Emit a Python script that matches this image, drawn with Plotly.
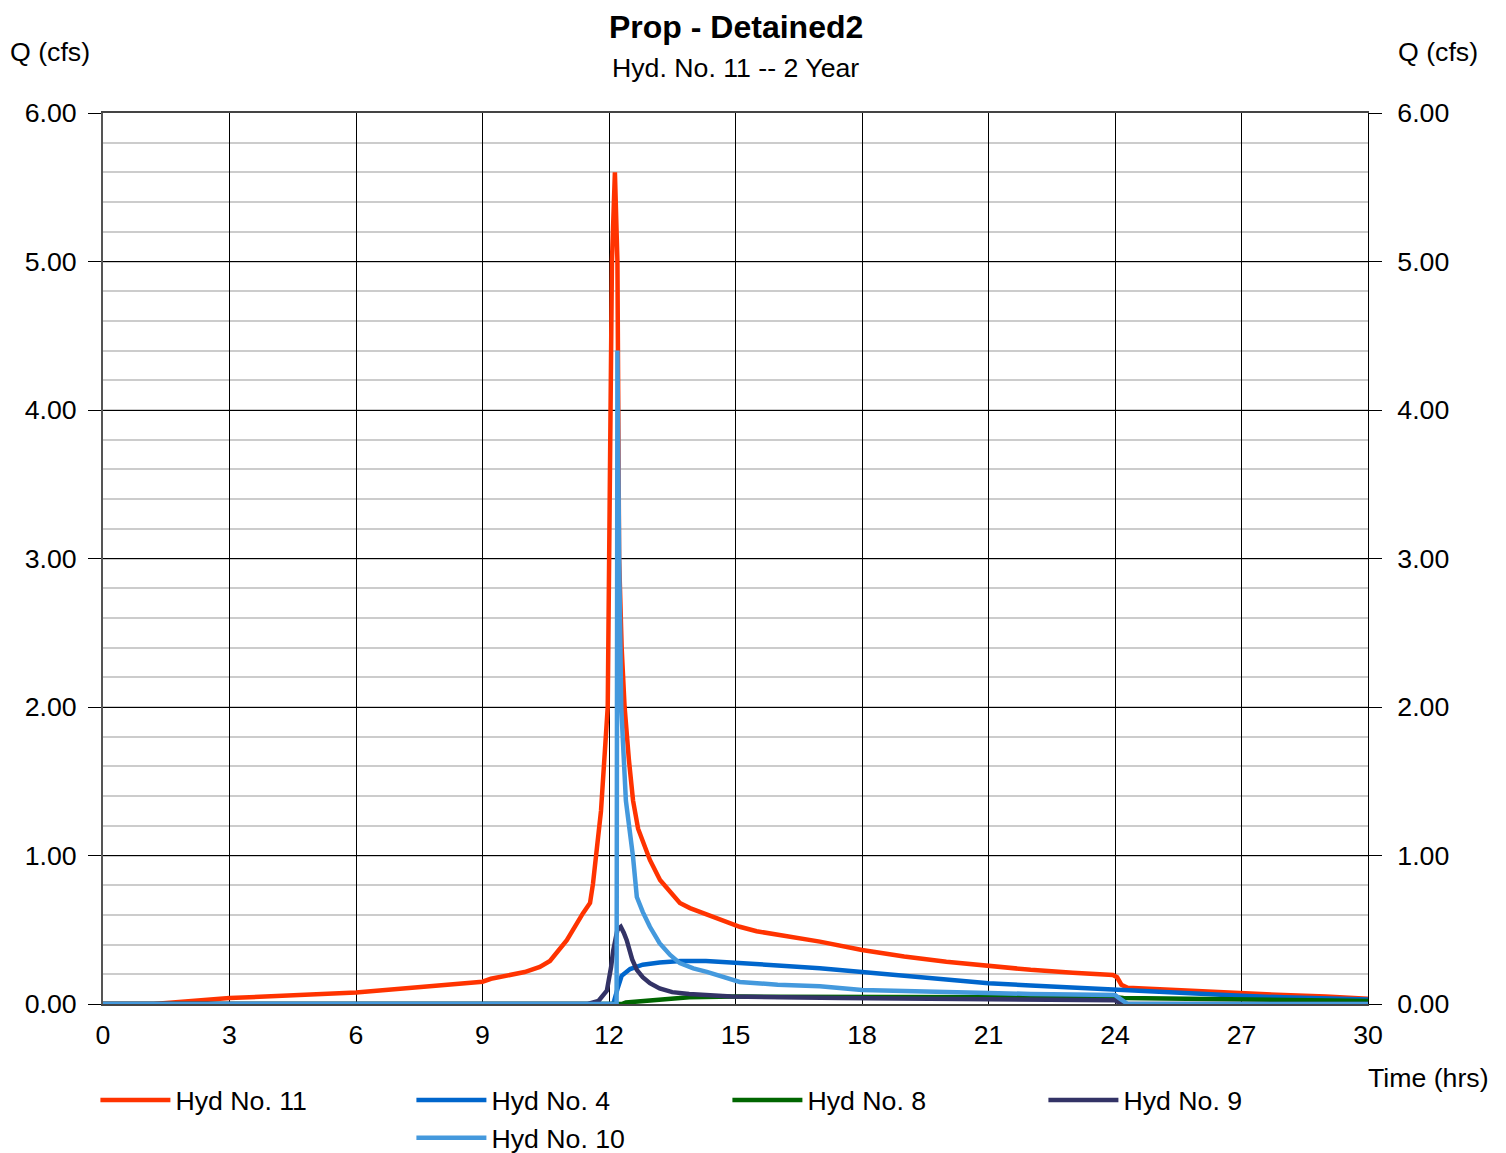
import plotly.graph_objects as go

# ---------------- data ----------------
t_h11 = [0, 1.2, 3, 6, 9, 9.2, 10.0, 10.36, 10.6, 11.0, 11.38, 11.55, 11.62, 11.69, 11.81,
         11.97, 12.0, 12.03, 12.07, 12.14, 12.2, 12.22, 12.24, 12.3, 12.37, 12.47, 12.57, 12.69,
         12.97, 13.21, 13.45, 13.68, 13.92, 14.47, 15.1, 15.5, 16.05, 17.0, 18.0, 19.0, 20.0,
         21.0, 22.0, 23.0, 23.95, 24.05, 24.15, 24.3, 25, 26, 27, 28, 29, 30]
q_h11 = [0, 0, 0.04, 0.077, 0.15, 0.17, 0.215, 0.25, 0.29, 0.43, 0.61, 0.68, 0.81, 0.97, 1.3,
         2.0, 3.0, 4.0, 5.0, 5.6, 5.0, 4.0, 3.0, 2.4, 2.0, 1.65, 1.37, 1.18,
         0.97, 0.835, 0.75, 0.68, 0.646, 0.586, 0.52, 0.49, 0.465, 0.42, 0.364, 0.32, 0.285,
         0.256, 0.23, 0.21, 0.195, 0.18, 0.13, 0.11, 0.1, 0.085, 0.074, 0.06, 0.05, 0.035]

t_h4 = [0, 12.1, 12.2, 12.3, 12.5, 12.8, 13.2, 13.7, 14.3, 15, 16, 17, 18, 19, 20, 21, 22,
        23, 24, 25, 26, 27, 28, 29, 30]
q_h4 = [0, 0, 0.1, 0.19, 0.235, 0.265, 0.28, 0.29, 0.29, 0.28, 0.26, 0.24, 0.215, 0.19,
        0.165, 0.14, 0.125, 0.11, 0.097, 0.08, 0.065, 0.055, 0.045, 0.035, 0.03]

t_h8 = [0, 12.3, 12.4, 12.8, 13.1, 13.9, 15, 17.5, 20, 24, 24.2, 27, 30]
q_h8 = [0, 0, 0.01, 0.02, 0.03, 0.045, 0.05, 0.05, 0.048, 0.045, 0.04, 0.03, 0.02]

t_h9 = [0, 11.5, 11.75, 11.95, 12.05, 12.1, 12.2, 12.28, 12.35, 12.42, 12.55, 12.66, 12.8,
        12.97, 13.2, 13.5, 13.9, 14.9, 17.5, 20, 24, 24.15, 30]
q_h9 = [0, 0, 0.02, 0.09, 0.25, 0.36, 0.5, 0.52, 0.48, 0.43, 0.3, 0.23, 0.18,
        0.14, 0.105, 0.08, 0.067, 0.05, 0.04, 0.035, 0.025, 0, 0]

t_h10 = [0, 12.18, 12.2, 12.22, 12.24, 12.29, 12.4, 12.57, 12.66, 12.8, 12.97,
         13.2, 13.45, 13.68, 14.0, 14.32, 15.1, 16, 17, 18, 19, 20, 21, 22, 23, 24, 24.1,
         24.3, 30]
q_h10 = [0, 0, 4.4, 3.6, 3.0, 2.0, 1.37, 0.99, 0.72, 0.62, 0.52,
         0.41, 0.33, 0.275, 0.24, 0.216, 0.148, 0.13, 0.12, 0.094, 0.085, 0.08, 0.074, 0.068,
         0.064, 0.06, 0.04, 0, 0]

series_names = ["Hyd No. 11", "Hyd No. 4", "Hyd No. 8", "Hyd No. 9", "Hyd No. 10"]
series_colors = ["#ff3300", "#0066cc", "#006600", "#333366", "#4499dd"]
x_ticks = [0, 3, 6, 9, 12, 15, 18, 21, 24, 27, 30]
y_ticks = [0, 1, 2, 3, 4, 5, 6]

FONT = "Liberation Sans, Arial, sans-serif"
FS = 26.7
LW = 4.5

fig = go.Figure()
series = [(t_h11, q_h11), (t_h4, q_h4), (t_h8, q_h8), (t_h9, q_h9)]
for (tx, qy), name, col in zip(series, series_names[:4], series_colors[:4]):
    fig.add_trace(go.Scatter(x=tx, y=qy, name=name, mode="lines",
                             line=dict(color=col, width=LW)))
# spacer so that the second legend row starts in the second column
fig.add_trace(go.Scatter(x=[None], y=[None], name=" ", mode="lines",
                         line=dict(color="rgba(0,0,0,0)", width=LW), hoverinfo="skip"))
fig.add_trace(go.Scatter(x=t_h10, y=q_h10, name=series_names[4], mode="lines",
                         line=dict(color=series_colors[4], width=LW)))
# right-hand axis
fig.add_trace(go.Scatter(x=[None], y=[None], yaxis="y2", showlegend=False, hoverinfo="skip"))

fig.update_layout(
    width=1498, height=1153,
    paper_bgcolor="white", plot_bgcolor="white",
    margin=dict(l=95, r=138, t=105, b=157, autoexpand=False),
    font=dict(family=FONT, size=FS, color="black"),
    showlegend=True,
    legend=dict(orientation="h", x=-0.006, xanchor="left", y=-0.081, yanchor="top",
                entrywidth=231, entrywidthmode="pixels", itemwidth=70,
                font=dict(size=FS), tracegroupgap=0, bgcolor="rgba(0,0,0,0)"),
    xaxis=dict(range=[0, 30], tickvals=x_ticks, ticktext=[str(v) for v in x_ticks],
               showgrid=True, gridcolor="black", gridwidth=1,
               showline=True, mirror=True, linecolor="#444444", linewidth=1.5,
               ticks="", ticklabelstandoff=6, zeroline=False),
    yaxis=dict(range=[0, 6], tickvals=y_ticks, ticktext=["%.2f" % v for v in y_ticks],
               showgrid=True, gridcolor="black", gridwidth=1,
               minor=dict(dtick=0.2, showgrid=True, gridcolor="#cccccc", gridwidth=2),
               showline=True, linecolor="#555555", linewidth=2,
               ticks="outside", ticklen=13, tickcolor="black", ticklabelstandoff=6,
               zeroline=False),
    yaxis2=dict(range=[0, 6], overlaying="y", side="right", matches="y",
                tickvals=y_ticks, ticktext=["%.2f" % v for v in y_ticks],
                showgrid=False, showline=True, linecolor="black", linewidth=1,
                ticks="outside", ticklen=13, tickcolor="black", ticklabelstandoff=10,
                zeroline=False),
    annotations=[
        dict(text="<b>Prop - Detained2</b>", xref="paper", yref="paper", x=0.5, y=1,
             yshift=86, xanchor="center", yanchor="middle", showarrow=False,
             borderpad=0, font=dict(size=32)),
        dict(text="Hyd. No. 11 -- 2 Year", xref="paper", yref="paper", x=0.5, y=1,
             yshift=45, xanchor="center", yanchor="middle", showarrow=False,
             font=dict(size=FS)),
        dict(text="Q (cfs)", xref="paper", yref="paper", x=0, y=1, xshift=-53, yshift=61,
             xanchor="center", yanchor="middle", showarrow=False),
        dict(text="Q (cfs)", xref="paper", yref="paper", x=1, y=1, xshift=70, yshift=61,
             xanchor="center", yanchor="middle", showarrow=False),
        dict(text="Time (hrs)", xref="paper", yref="paper", x=1, y=0, xshift=123, yshift=-74,
             xanchor="right", yanchor="middle", showarrow=False),
    ],
)

fig.write_html("out.html")
